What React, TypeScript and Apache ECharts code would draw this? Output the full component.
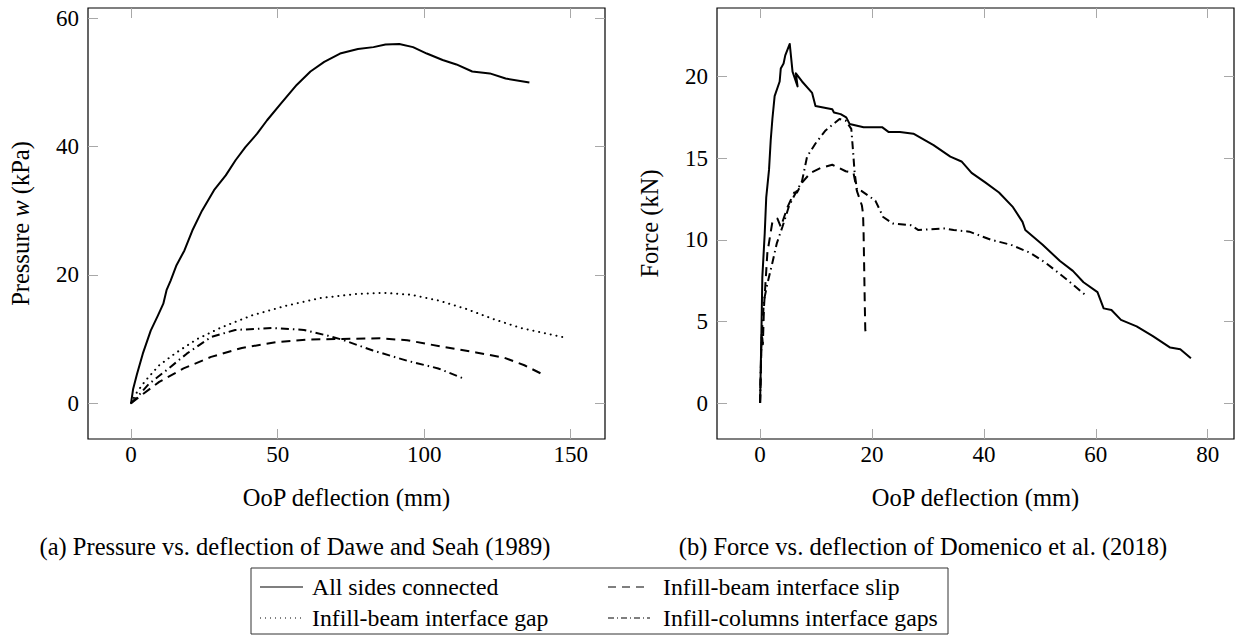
import React, { useEffect, useRef } from "react";
import * as echarts from "echarts";

const FONT = "Liberation Serif";
const FS = 23; // tick labels
const FS_TITLE = 24.5; // axis titles and captions
const FS_LEG = 23.8; // legend entries

// ---------- tick labels ----------
const xTicksA = [0, 50, 100, 150];
const yTicksA = [0, 20, 40, 60];
const xTicksB = [0, 20, 40, 60, 80];
const yTicksB = [0, 5, 10, 15, 20];

// ---------- series names ----------
const nameSolid = "All sides connected";
const nameSlip = "Infill-beam interface slip";
const nameGap = "Infill-beam interface gap";
const nameCols = "Infill-columns interface gaps";

// ---------- (a) Dawe and Seah (1989): [deflection mm, pressure kPa] ----------
const aSolid: [number, number][] = [
  [0, 0], [0.7, 2.2], [2, 4.5], [4, 7.7], [6.7, 11.3], [9.1, 13.6], [11, 15.5],
  [12.1, 17.6], [13.5, 19.1], [15.5, 21.5], [18.2, 23.8], [20.9, 26.9], [24.2, 30],
  [28.3, 33.2], [32.3, 35.5], [35.7, 37.9], [39, 39.9], [43, 42], [46.4, 44.1],
  [51.1, 46.7], [56.5, 49.6], [61.2, 51.7], [65.9, 53.2], [71.3, 54.5], [77.4, 55.2],
  [82.7, 55.5], [86.8, 55.9], [91.5, 56], [96.2, 55.5], [100.9, 54.5], [106.3, 53.5],
  [111, 52.8], [116.4, 51.7], [122.4, 51.4], [127.8, 50.6], [135.9, 50],
];
const aSlip: [number, number][] = [
  [0, 0], [4.3, 1.5], [9.6, 3.3], [17.9, 5.4], [27.3, 7.2], [37.8, 8.6], [49.6, 9.5],
  [60.2, 9.9], [71.9, 10], [84.8, 10.1], [94.2, 9.8], [106, 8.8], [117.7, 7.9],
  [127.1, 7.1], [134.2, 5.9], [141.2, 4.3],
];
const aGap: [number, number][] = [
  [0, 0], [2, 1.7], [4.9, 3.5], [9.6, 5.9], [15.5, 7.9], [22.6, 10], [30.8, 11.8],
  [41.4, 13.7], [53.1, 15.2], [64.9, 16.4], [76.6, 17], [86, 17.2], [95.4, 16.9],
  [104.8, 16], [114.2, 14.7], [123.6, 13.1], [133, 11.7], [147.1, 10.3],
];
const aCols: [number, number][] = [
  [0, 0], [2, 0.9], [6.1, 3], [12, 5.1], [19, 7.7], [27.3, 10.3], [35.5, 11.4],
  [48.4, 11.7], [59, 11.4], [67.2, 10.5], [71.9, 9.9], [82.5, 8.2], [94.2, 6.6],
  [104.8, 5.4], [113.6, 3.8],
];

// ---------- (b) Domenico et al. (2018): [deflection mm, force kN] ----------
const bSolid: [number, number][] = [
  [0, 0], [0.24, 4.3], [0.4, 7.7], [0.83, 10.4], [1.1, 12.6], [1.6, 14.3], [1.9, 16.1],
  [2.2, 17.4], [2.6, 18.8], [3.5, 19.7], [3.7, 20.5], [4.2, 20.8], [4.5, 21.3],
  [5.3, 22], [5.8, 20.3], [6.7, 19.4], [6.4, 20.2], [7.5, 19.7], [9.3, 19], [9.9, 18.2],
  [12.9, 18], [13.2, 17.8], [14.4, 17.7], [15.4, 17.5], [16, 17.1], [18.5, 16.9],
  [21.8, 16.9], [23, 16.6], [25, 16.6], [27.4, 16.5], [31, 15.8], [34, 15.1],
  [36, 14.8], [37.8, 14.1], [40.3, 13.5], [42.7, 12.9], [45.2, 12], [46.9, 11.1],
  [47.4, 10.6], [50.5, 9.7], [53.6, 8.7], [55.9, 8.1], [57.8, 7.4], [60.3, 6.8],
  [61.4, 5.8], [62.8, 5.7], [64.5, 5.1], [67.3, 4.7], [70.2, 4.1], [73.3, 3.4],
  [75.1, 3.3], [77, 2.75],
];
const bSlip: [number, number][] = [
  [0, 0], [0.3, 4.3], [0.5, 3.6], [0.7, 5.9], [1.3, 9.2], [2.2, 11.1], [3.1, 11.3],
  [3.7, 10.8], [4.9, 12], [6.1, 12.9], [6.6, 12.9], [7.5, 13.5], [9, 14.1],
  [10.8, 14.4], [12.9, 14.6], [15.3, 14.2], [16.7, 14.1], [17.3, 13], [18.2, 12.1],
  [18.4, 11.6], [18.5, 10.4], [18.6, 8.4], [18.7, 6.3], [18.8, 4.5], [18.9, 4.3],
];
const bCols: [number, number][] = [
  [0, 0], [0.2, 3.3], [0.4, 4.7], [0.7, 6.3], [1.3, 7.3], [2.2, 8.6], [3, 9.8],
  [4, 10.8], [5.2, 12.1], [6.4, 12.9], [7.5, 13.6], [8.4, 15.1], [9.9, 15.9],
  [11.7, 16.7], [14.2, 17.4], [15.3, 17.3], [16.3, 16.8], [16.6, 15.5], [16.9, 14.1],
  [17.3, 13.1], [18.1, 13], [20.6, 12.4], [22, 11.4], [23.7, 11], [26.9, 10.9],
  [28.3, 10.6], [32.9, 10.7], [34.6, 10.6], [37.4, 10.5], [41.3, 10], [44.8, 9.7],
  [48.3, 9.2], [51.2, 8.55], [54.7, 7.6], [58.2, 6.6],
];

// ---------- axis ranges (pgfplots-style enlarged limits) ----------
const rangeAX = [-14.7, 161.7];
const rangeAY = [-5.6, 61.6];
const rangeBX = [-7.7, 84.7];
const rangeBY = [-2.2, 24.2];

const LW = 2;
const dashSolid = "solid";
const dashSlip = [9, 6];
const dashGap = [0.1, 5.8];
const dashCols = [8, 4, 1.5, 4];

const tickStyle = { show: true, inside: true, length: 10, lineStyle: { color: "#a8a8a8", width: 1 } };
const labelStyle = { color: "#000", fontFamily: FONT, fontSize: FS };
const titleStyle = { color: "#000", fontFamily: FONT, fontSize: FS_TITLE };

function xAx(grid: number, range: number[], ticks: number[], pos: "bottom" | "top", name?: string) {
  return {
    type: "value",
    gridIndex: grid,
    position: pos,
    min: range[0],
    max: range[1],
    axisLine: { show: false, onZero: false },
    splitLine: { show: false },
    axisTick: { ...tickStyle, customValues: ticks },
    axisLabel: { show: pos === "bottom", customValues: ticks, margin: 4, ...labelStyle },
    name: name || "",
    nameLocation: "middle",
    nameGap: 46,
    nameTextStyle: { ...titleStyle },
  };
}

function yAx(grid: number, range: number[], ticks: number[], pos: "left" | "right", name?: string) {
  return {
    type: "value",
    gridIndex: grid,
    position: pos,
    min: range[0],
    max: range[1],
    axisLine: { show: false, onZero: false },
    splitLine: { show: false },
    axisTick: { ...tickStyle, customValues: ticks },
    axisLabel: { show: pos === "left", customValues: ticks, margin: 9, ...labelStyle },
    name: name || "",
    nameLocation: "middle",
    nameGap: 55,
    nameTextStyle: {
      ...titleStyle,
      rich: { i: { fontStyle: "italic", fontFamily: FONT, fontSize: FS_TITLE, color: "#000" } },
    },
  };
}

function line(name: string, data: [number, number][], xi: number, yi: number, dash: any, cap = "butt") {
  return {
    type: "line",
    name,
    data,
    xAxisIndex: xi,
    yAxisIndex: yi,
    showSymbol: false,
    symbol: "none",
    smooth: false,
    lineStyle: { color: "#000", width: LW, type: dash, cap, join: "round" },
  };
}

function legendGraphic() {
  const f = { fontFamily: FONT, fontSize: FS_LEG, fill: "#000", verticalAlign: "middle", align: "left" };
  const fc = { fontFamily: FONT, fontSize: FS_TITLE, fill: "#000", verticalAlign: "middle", align: "center" };
  const rows = [587, 618];
  const items = [
    { x1: 260, x2: 303, tx: 312, y: rows[0], text: nameSolid, dash: null as any },
    { x1: 608, x2: 650, tx: 663, y: rows[0], text: nameSlip, dash: [8, 6] },
    { x1: 260, x2: 303, tx: 312, y: rows[1], text: nameGap, dash: [1, 4] },
    { x1: 608, x2: 650, tx: 663, y: rows[1], text: nameCols, dash: [6, 3, 1, 3] },
  ];
  const els: any[] = [
    {
      type: "rect",
      shape: { x: 251, y: 568, width: 697, height: 66 },
      style: { fill: "none", stroke: "#333", lineWidth: 1 },
    },
  ];
  items.forEach((it) => {
    els.push({
      type: "line",
      shape: { x1: it.x1, y1: it.y, x2: it.x2, y2: it.y },
      style: { stroke: "#000", lineWidth: 1.1, lineDash: it.dash || undefined },
    });
    els.push({ type: "text", x: it.tx, y: it.y, style: { text: it.text, ...f } });
  });
  els.push({
    type: "text",
    x: 295,
    y: 546,
    style: { text: "(a) Pressure vs. deflection of Dawe and Seah (1989)", ...fc },
  });
  els.push({
    type: "text",
    x: 923,
    y: 546,
    style: { text: "(b) Force vs. deflection of Domenico et al. (2018)", ...fc },
  });
  return els;
}

export default function App() {
  const ref = useRef<HTMLDivElement>(null);
  useEffect(() => {
    if (!ref.current) return;
    const chart = echarts.init(ref.current, null, { renderer: "svg" });
    const gridCommon = { show: true, borderColor: "#000", borderWidth: 1.2, backgroundColor: "transparent", containLabel: false };
    chart.setOption({
      animation: false,
      backgroundColor: "#fff",
      textStyle: { fontFamily: FONT },
      grid: [
        { ...gridCommon, left: 88, top: 8, width: 517, height: 431 },
        { ...gridCommon, left: 717, top: 8, width: 517, height: 431 },
      ],
      xAxis: [
        xAx(0, rangeAX, xTicksA, "bottom", "OoP deflection (mm)"),
        xAx(0, rangeAX, xTicksA, "top"),
        xAx(1, rangeBX, xTicksB, "bottom", "OoP deflection (mm)"),
        xAx(1, rangeBX, xTicksB, "top"),
      ],
      yAxis: [
        yAx(0, rangeAY, yTicksA, "left", "Pressure {i|w} (kPa)"),
        yAx(0, rangeAY, yTicksA, "right"),
        yAx(1, rangeBY, yTicksB, "left", "Force (kN)"),
        yAx(1, rangeBY, yTicksB, "right"),
      ],
      series: [
        line(nameSolid, aSolid, 0, 0, dashSolid),
        line(nameSlip, aSlip, 0, 0, dashSlip),
        line(nameGap, aGap, 0, 0, dashGap, "round"),
        line(nameCols, aCols, 0, 0, dashCols),
        line(nameSolid, bSolid, 2, 2, dashSolid),
        line(nameSlip, bSlip, 2, 2, dashSlip),
        line(nameCols, bCols, 2, 2, dashCols),
      ],
      graphic: legendGraphic(),
    });
    return () => chart.dispose();
  }, []);
  return (
    <div
      ref={ref}
      style={{ position: "fixed", left: 0, top: 0, width: 1239, height: 637, background: "#fff" }}
    />
  );
}
